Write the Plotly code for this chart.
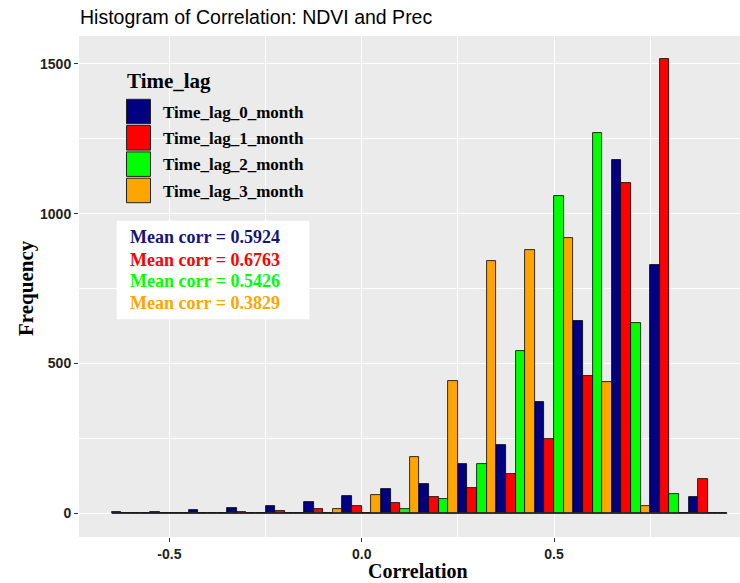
import plotly.graph_objects as go

# ---- data ----
bin_centers = [-0.6, -0.5, -0.4, -0.3, -0.2, -0.1, 0.0, 0.1, 0.2, 0.3, 0.4, 0.5, 0.6, 0.7, 0.8, 0.9]
bin_width = 0.1
lag0 = [3, 3, 11, 18, 25, 37, 57, 82, 97, 166, 229, 372, 641, 1180, 827, 55]
lag1 = [0, 0, 0, 3, 7, 13, 25, 33, 55, 86, 130, 248, 459, 1103, 1516, 115]
lag2 = [0, 0, 0, 0, 0, 0, 2, 13, 48, 165, 543, 1058, 1269, 634, 65, 0]
lag3 = [0, 0, 0, 0, 0, 13, 60, 187, 440, 843, 880, 917, 437, 24, 0, 0]
series_names = ["Time_lag_0_month", "Time_lag_1_month", "Time_lag_2_month", "Time_lag_3_month"]
series_colors = ["#000080", "#FF0000", "#00FF00", "#FFA500"]
mean_corr = [0.5924, 0.6763, 0.5426, 0.3829]
text_colors = ["#14147A", "#FF0000", "#00FF00", "#FFA500"]
x_tickvals = [-0.5, 0.0, 0.5, 1.0]
x_ticktext = ["-0.5", "0.0", "0.5", "1"]
y_tickvals = [0, 500, 1000, 1500]
y_ticktext = ["0", "500", "1000", "1500"]

W, H = 740, 583
L, R, T, B = 79, 0, 36, 46
PW, PH = W - L - R, H - T - B


def pxx(px):
    return (px - L) / PW


def pxy(py):
    return (H - B - py) / PH


fig = go.Figure()
for name, vals, col in zip(series_names, [lag0, lag1, lag2, lag3], series_colors):
    fig.add_trace(go.Bar(
        x=bin_centers, y=vals, name=name,
        marker=dict(color=col, line=dict(color="#000000", width=0.8)),
        showlegend=False,
    ))

# zero-height bar outlines along the baseline
fig.add_trace(go.Scatter(
    x=[bin_centers[0] - bin_width / 2, bin_centers[-1] + bin_width / 2],
    y=[0, 0], mode="lines", line=dict(color="#333333", width=1.2),
    showlegend=False, hoverinfo="skip",
))

shapes = []
annotations = []

# custom legend
annotations.append(dict(
    text="Time_lag", xref="paper", yref="paper", x=pxx(125), y=pxy(80.5),
    xanchor="left", yanchor="middle", showarrow=False,
    font=dict(family="Liberation Serif", size=21, color="#000000", weight="bold"),
))
key_top = 99.3
pitch = 26.3
for i, (name, col) in enumerate(zip(series_names, series_colors)):
    top = key_top + i * pitch
    shapes.append(dict(
        type="rect", xref="paper", yref="paper",
        x0=pxx(126.5), x1=pxx(150.5), y0=pxy(top + 24.5), y1=pxy(top),
        fillcolor=col, line=dict(color="#222222", width=1),
    ))
    annotations.append(dict(
        text=name, xref="paper", yref="paper", x=pxx(161), y=pxy(top + 13),
        xanchor="left", yanchor="middle", showarrow=False,
        font=dict(family="Liberation Serif", size=17, color="#000000", weight="bold"),
    ))

# mean corr box
shapes.append(dict(
    type="rect", xref="paper", yref="paper",
    x0=pxx(116.7), x1=pxx(309.3), y0=pxy(319.3), y1=pxy(220.7),
    fillcolor="#FFFFFF", line=dict(width=0), layer="above",
))
line_y = [237.5, 259.5, 281.0, 302.5]
for m, col, yy in zip(mean_corr, text_colors, line_y):
    annotations.append(dict(
        text=f"Mean corr = {m:.4f}", xref="paper", yref="paper", x=pxx(128), y=pxy(yy),
        xanchor="left", yanchor="middle", showarrow=False,
        font=dict(family="Liberation Serif", size=18, color=col, weight="bold"),
    ))

# axis titles
annotations.append(dict(
    text="Correlation", xref="paper", yref="paper", x=pxx(418), y=pxy(570.5),
    xanchor="center", yanchor="middle", showarrow=False,
    font=dict(family="Liberation Serif", size=20, color="#000000", weight="bold"),
))
annotations.append(dict(
    text="Frequency", xref="paper", yref="paper", x=pxx(26), y=pxy(288),
    xanchor="center", yanchor="middle", showarrow=False, textangle=-90,
    font=dict(family="Liberation Serif", size=21, color="#000000", weight="bold"),
))

fig.update_layout(
    width=W, height=H,
    margin=dict(l=L, r=R, t=T, b=B, pad=0),
    paper_bgcolor="#FFFFFF", plot_bgcolor="#EBEBEB",
    barmode="group", bargap=0, bargroupgap=0,
    title=dict(
        text="Histogram of Correlation: NDVI and Prec",
        x=pxx(80), xref="paper", xanchor="left",
        y=1 - 17.5 / H, yref="container", yanchor="middle",
        font=dict(family="Liberation Sans", size=19.5, color="#000000"),
    ),
    shapes=shapes, annotations=annotations,
    showlegend=False,
)

fig.update_xaxes(
    range=[(L - 361.7) / 384.7, (W - R - 361.7) / 384.7],
    tickmode="array", tickvals=x_tickvals, ticktext=x_ticktext,
    ticks="outside", ticklen=4, tickcolor="#333333", tickwidth=1,
    tickfont=dict(family="Liberation Sans", size=14, color="#222222", weight="bold"),
    showgrid=True, gridcolor="#FFFFFF", gridwidth=1.2,
    minor=dict(tickvals=[-0.25, 0.25, 0.75], showgrid=True, gridcolor="#FFFFFF", gridwidth=0.6, ticks=""),
    zeroline=False, showline=False,
)
fig.update_yaxes(
    range=[-79.1, 1592.6],
    tickmode="array", tickvals=y_tickvals, ticktext=y_ticktext,
    ticks="outside", ticklen=4, tickcolor="#333333", tickwidth=1,
    tickfont=dict(family="Liberation Sans", size=14, color="#222222", weight="bold"),
    showgrid=True, gridcolor="#FFFFFF", gridwidth=1.2,
    minor=dict(tickvals=[250, 750, 1250], showgrid=True, gridcolor="#FFFFFF", gridwidth=0.6, ticks=""),
    zeroline=False, showline=False,
)

fig.write_html("out.html")
